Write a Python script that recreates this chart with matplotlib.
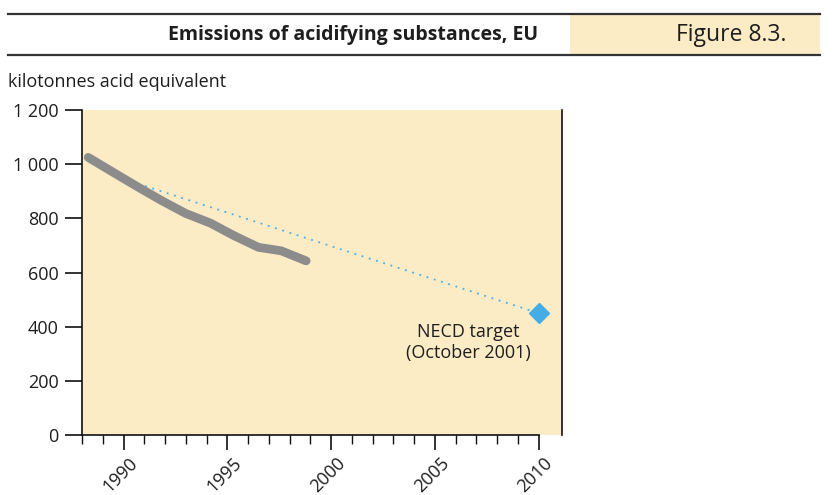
import matplotlib
matplotlib.use('Agg')
from matplotlib import pyplot as plt
from matplotlib.ticker import FuncFormatter, FixedLocator
import matplotlib.transforms as mtransforms

plt.rcParams['font.family'] = ['Open Sans', 'DejaVu Sans']

# emissions, kilotonnes acid equivalent (positions as drawn in the source chart)
emis_years = [1988.3, 1989.5, 1990.6, 1991.8, 1993.0, 1994.2, 1995.3, 1996.5, 1997.6, 1998.8]
emis_values = [1025, 970, 920, 867, 818, 782, 737, 693, 680, 643]

# path towards the NECD target
target_years = [1990, 2010]
target_values = [945, 450]
target_label = 'NECD target\n(October 2001)'

year_ticks = [1990, 1995, 2000, 2005, 2010]
year_minor = list(range(1988, 2011))
value_ticks = [0, 200, 400, 600, 800, 1000, 1200]

beige = '#fcecc6'
grey_line = '#8c8c8c'
blue = '#45ade6'
text_col = '#1e1e1e'

fig = plt.figure(figsize=(8.35, 4.95), dpi=100)

# header band
fig.add_artist(plt.Line2D([8/835, 820/835], [1 - 14/495, 1 - 14/495], color='#333333', lw=1.6))
fig.add_artist(plt.Line2D([8/835, 820/835], [1 - 55/495, 1 - 55/495], color='#333333', lw=1.6))
fig.add_artist(plt.Rectangle((570/835, 1 - 54/495), 250/835, 39/495, color=beige, lw=0))
fig.text(538/835, 1 - 35/495, 'Emissions of acidifying substances, EU', ha='right', va='center',
         fontsize=14, fontweight='bold', color=text_col)
fig.text(731/835, 1 - 35/495, 'Figure 8.3.', ha='center', va='center', fontsize=16.5, color=text_col)
fig.text(8/835, 1 - 82/495, 'kilotonnes acid equivalent', ha='left', va='center', fontsize=13, color=text_col)

ax = fig.add_axes([82/835, 1 - 435/495, 480/835, 325/495])
ax.set_facecolor(beige)

ax.plot(target_years, target_values, color=blue, lw=1.3, ls=(0, (1, 3.2)), zorder=2)
ax.plot(emis_years, emis_values, color=grey_line, lw=6.3, solid_capstyle='round',
        solid_joinstyle='round', zorder=3)
ax.plot(target_years[-1:], target_values[-1:], marker='D', ms=10, color=blue, ls='none', zorder=4,
        clip_on=False)
ax.text(2006.6, target_values[-1] - 38, target_label, ha='center', va='top', fontsize=13,
        color=text_col, linespacing=1.2)

ax.set_xlim(1988, 2011.13)
ax.set_ylim(0, 1200)

ax.spines['top'].set_visible(False)
ax.spines['bottom'].set_bounds(1988, 2010)
for s in ['left', 'bottom', 'right']:
    ax.spines[s].set_color('#111111')
    ax.spines[s].set_linewidth(1.2)

ax.set_xticks(year_ticks)
ax.xaxis.set_minor_locator(FixedLocator(year_minor))
ax.set_yticks(value_ticks)
ax.yaxis.set_major_formatter(FuncFormatter(lambda v, p: f'{int(v):,}'.replace(',', ' ')))

ax.tick_params(axis='y', length=12, width=1.2, color='#111111', labelsize=13, labelcolor=text_col, pad=5)
ax.tick_params(axis='x', which='major', length=11, width=1.2, color='#111111', labelsize=13,
               labelcolor=text_col, pad=3)
ax.tick_params(axis='x', which='minor', length=6.5, width=1.0, color='#111111')

offset = mtransforms.ScaledTranslation(5/100, 0, fig.dpi_scale_trans)
for lab in ax.get_xticklabels():
    lab.set_rotation(45)
    lab.set_ha('right')
    lab.set_va('top')
    lab.set_rotation_mode('anchor')
    lab.set_transform(lab.get_transform() + offset)

fig.savefig('out.png', dpi=100)
